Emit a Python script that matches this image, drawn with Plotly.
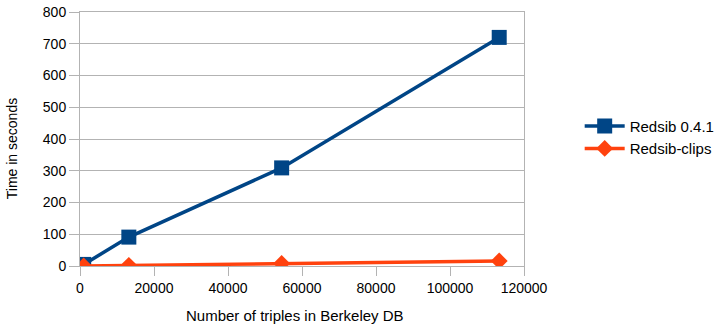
import plotly.graph_objects as go

triples = [1000, 13200, 54500, 113300]
redsib_041 = [5, 91, 309, 720]
redsib_clips = [0, 2, 8, 16]

x_ticks = [0, 20000, 40000, 60000, 80000, 100000, 120000]
x_title = "Number of triples in Berkeley DB"
y_title = "Time in seconds"

fig = go.Figure()
fig.add_trace(go.Scatter(x=triples, y=redsib_041, name="Redsib 0.4.1", mode="lines+markers",
                         line=dict(color="#004586", width=3.5),
                         marker=dict(symbol="square", size=15, color="#004586")))
fig.add_trace(go.Scatter(x=triples, y=redsib_clips, name="Redsib-clips", mode="lines+markers",
                         line=dict(color="#ff420e", width=3.5),
                         marker=dict(symbol="diamond", size=13, color="#ff420e")))

FONT = "Liberation Sans, Arial, sans-serif"
axis_font = dict(family=FONT, size=14, color="#000")
fig.update_layout(
    width=721, height=325,
    margin=dict(l=80, r=197, t=12, b=59),
    plot_bgcolor="white", paper_bgcolor="white",
    font=dict(family=FONT, color="#000"),
    showlegend=True,
    legend=dict(xref="container", yref="container", x=0.804, y=0.578,
                xanchor="left", yanchor="middle",
                font=dict(size=15), tracegroupgap=0, itemwidth=40),
    xaxis=dict(range=[0, 120000], tickvals=x_ticks, ticktext=[str(v) for v in x_ticks],
               showgrid=False, zeroline=False, showline=True, linecolor="#b3b3b3", linewidth=1,
               mirror=True, ticks="outside", ticklen=9, tickcolor="#b3b3b3",
               tickfont=axis_font, automargin=False),
    yaxis=dict(range=[0, 800], dtick=100, showgrid=True, gridcolor="#b3b3b3",
               zeroline=False, showline=True, linecolor="#b3b3b3", linewidth=1, mirror=True,
               ticks="outside", ticklen=10, tickcolor="#b3b3b3", tickfont=axis_font,
               automargin=False),
    annotations=[
        dict(text=x_title, xref="paper", yref="paper", x=0.484, y=-0.193,
             xanchor="center", yanchor="middle", showarrow=False,
             font=dict(family=FONT, size=15, color="#000")),
        dict(text=y_title, xref="paper", yref="paper", x=-0.153, y=0.46,
             xanchor="center", yanchor="middle", showarrow=False, textangle=-90,
             font=dict(family=FONT, size=14, color="#000")),
    ],
)
fig.write_html("out.html", config={"displayModeBar": False},
               post_script="document.body.style.margin='0';")
